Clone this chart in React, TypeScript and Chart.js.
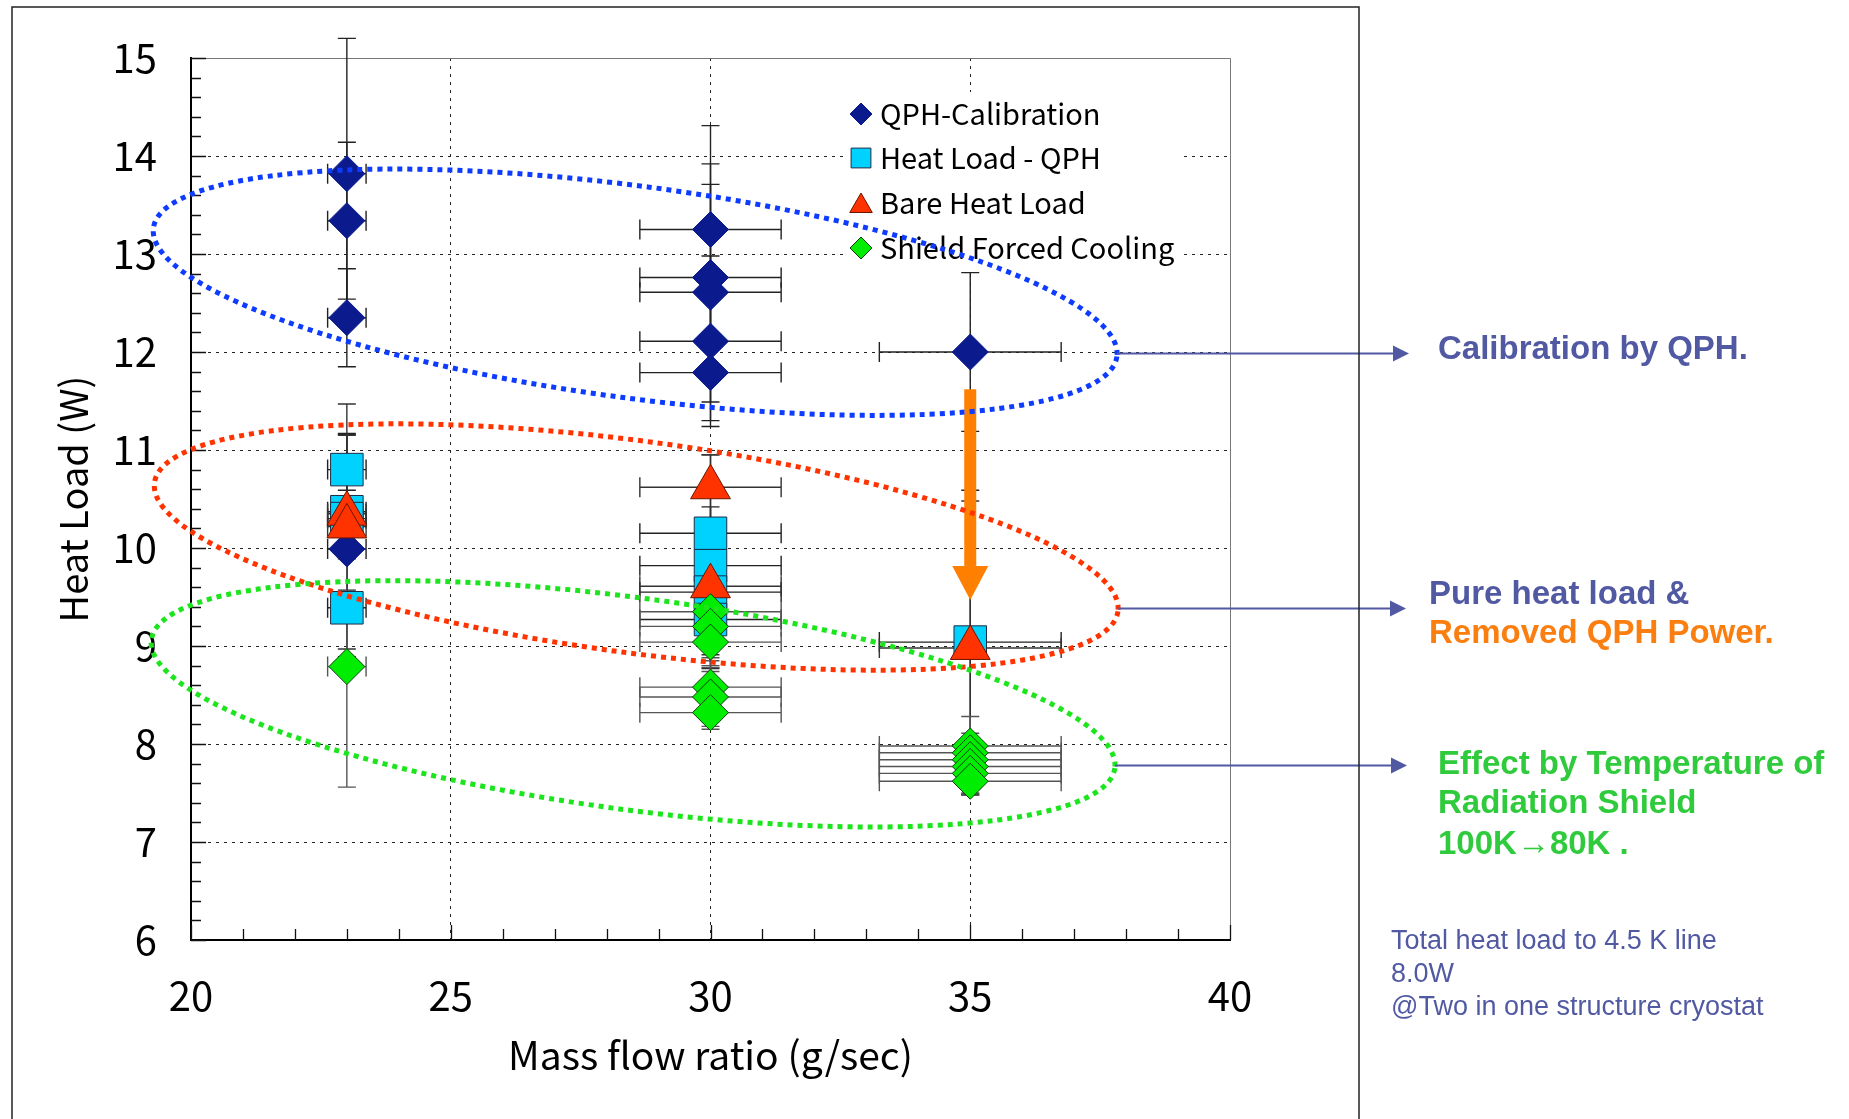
import React, { useEffect, useRef } from 'react';
import { Chart, registerables } from 'chart.js';

Chart.register(...registerables);

const W = 1849;
const H = 1119;

// ---------- data ----------
const xTicks = { min: 20, max: 40, step: 5 };
const yTicks = { min: 6, max: 15, step: 1 };

const qphX = [23, 23, 23, 23, 30, 30, 30, 30, 30, 35];
const qphY = [13.82, 13.34, 12.35, 9.99, 13.25, 12.76, 12.61, 12.11, 11.79, 12.0];
const qphXErr = [0.37, 0.37, 0.37, 0.37, 1.36, 1.36, 1.36, 1.36, 1.36, 1.75];
const qphYErr = [1.38, 0.8, 0.5, 0.6, 1.06, 0.95, 1.31, 0.87, 0.3, 0.81];

const hlX = [23, 23, 23, 23, 30, 30, 30, 30, 35];
const hlY = [10.8, 10.37, 10.3, 9.39, 10.15, 9.82, 9.55, 9.27, 9.04];
const hlXErr = [0.37, 0.37, 0.37, 0.37, 1.36, 1.36, 1.36, 1.36, 1.75];
const hlYErr = [0.36, 0.8, 0.22, 0.5, 0.8, 0.6, 0.4, 0.5, 1.55];

const bareX = [23, 23, 30, 30, 35];
const bareY = [10.35, 10.22, 10.62, 9.61, 8.98];
const bareXErr = [0.37, 0.37, 1.36, 1.36, 1.75];
const bareYErr = [0.8, 1.25, 0.33, 0.7, 1.5];

const sfcX = [23, 30, 30, 30, 30, 30, 30, 35, 35, 35, 35, 35, 35];
const sfcY = [8.79, 9.35, 9.2, 9.04, 8.58, 8.48, 8.32, 7.98, 7.91, 7.84, 7.77, 7.7, 7.62];
const sfcXErr = [0.37, 1.36, 1.36, 1.36, 1.36, 1.36, 1.36, 1.75, 1.75, 1.75, 1.75, 1.75, 1.75];
const sfcYErr = [1.23, 0.5, 0.4, 0.3, 0.3, 0.3, 0.17, 0.3, 0.2, 0.2, 0.2, 0.2, 0.14];

const seriesLabels = ['QPH-Calibration', 'Heat Load - QPH', 'Bare Heat Load', 'Shield Forced Cooling'];

// highlighted groups (ellipses), centre in data units
const groupCenterX = [28.55, 28.57, 28.51];
const groupCenterY = [12.61, 10.01, 8.41];

// removed QPH power arrow (data units)
const removedArrowX = 35;
const removedArrowFrom = 11.62;
const removedArrowTo = 9.47;

const noteLines = [
  'Calibration by QPH.',
  'Pure heat load &',
  'Removed QPH Power.',
  'Effect by Temperature of',
  'Radiation Shield',
  '100K\u219280K .',
];
const footLines = ['Total heat load to 4.5 K line', '8.0W', '@Two in one structure cryostat'];

// ---------- styles / layout ----------
const JP = '"Noto Sans CJK JP", "Noto Sans", sans-serif';
const AR = '"Liberation Sans", Arial, sans-serif';
const SLATE = '#5159a3';
const ORANGE = '#fb7f10';
const GREEN_TXT = '#2fcb3c';
const ellipseColors = ['#0d3bff', '#ff3300', '#1de51d'];
const ellipseA = 486;
const ellipseB = 106;
const ellipseRot = (7.6 * Math.PI) / 180;
const noteColors = [SLATE, SLATE, ORANGE, GREEN_TXT, GREEN_TXT, GREEN_TXT];
const noteX = [1438, 1429, 1429, 1438, 1438, 1438];
const noteY = [350, 595, 634, 765, 804, 845];
const footX = 1391;
const footY = [942, 975, 1008];
const arrowTipX = [1409, 1406, 1407];
const AREA = { left: 191, right: 1230, top: 53, bottom: 940 };

const markerStyles = [
  { style: 'rectRot', r: 18, bg: '#0b1a8c', border: '#0b1a8c', leg: 11 },
  { style: 'rect', r: 23, bg: '#00d2ff', border: '#1d2b45', leg: 14 },
  { style: 'triangle', r: 23, bg: '#ff3300', border: '#6a1500', leg: 13 },
  { style: 'rectRot', r: 18, bg: '#00ec00', border: '#0b3b0b', leg: 11 },
];
const errColors = ['#222', '#222', '#333', '#555'];

function drawMarker(ctx: CanvasRenderingContext2D, style: string, x: number, y: number, r: number, bg: string, border: string) {
  ctx.beginPath();
  if (style === 'rectRot') {
    ctx.moveTo(x, y - r);
    ctx.lineTo(x + r, y);
    ctx.lineTo(x, y + r);
    ctx.lineTo(x - r, y);
  } else if (style === 'rect') {
    const s = r * Math.SQRT1_2;
    ctx.rect(x - s, y - s, 2 * s, 2 * s);
  } else {
    ctx.moveTo(x, y - r);
    ctx.lineTo(x + 0.866 * r, y + 0.5 * r);
    ctx.lineTo(x - 0.866 * r, y + 0.5 * r);
  }
  ctx.closePath();
  ctx.fillStyle = bg;
  ctx.fill();
  ctx.lineWidth = 1;
  ctx.strokeStyle = border;
  ctx.stroke();
}

const overlay = {
  id: 'overlay',
  beforeDatasetsDraw(chart: any) {
    const ctx: CanvasRenderingContext2D = chart.ctx;
    const xs = chart.scales.x;
    const ys = chart.scales.y;
    const ca = chart.chartArea;
    ctx.save();
    // top / right frame of plot
    ctx.strokeStyle = '#777';
    ctx.lineWidth = 1;
    ctx.beginPath();
    ctx.moveTo(ca.left, ca.top + 0.5);
    ctx.lineTo(ca.right + 0.5, ca.top + 0.5);
    ctx.lineTo(ca.right + 0.5, ca.bottom);
    ctx.stroke();
    // inward ticks
    ctx.strokeStyle = '#111';
    ctx.lineWidth = 1.3;
    ctx.beginPath();
    for (let k = 0; k <= (yTicks.max - yTicks.min) * 5; k++) {
      const v = yTicks.min + k * 0.2;
      const major = k % 5 === 0;
      const py = Math.round(ys.getPixelForValue(v)) + 0.5;
      ctx.moveTo(ca.left, py);
      ctx.lineTo(ca.left + (major ? 15 : 10), py);
    }
    for (let v = xTicks.min; v <= xTicks.max; v++) {
      const major = v % 5 === 0;
      const px = Math.round(xs.getPixelForValue(v)) + 0.5;
      ctx.moveTo(px, ca.bottom);
      ctx.lineTo(px, ca.bottom - (major ? 15 : 11));
    }
    ctx.stroke();

    // legend (white box)
    const lx = 843, ly = 92, lw = 337, lh = 180;
    ctx.fillStyle = '#fff';
    ctx.fillRect(lx, ly, lw, lh);
    const rowY = [114, 158, 203, 248];
    chart.data.datasets.forEach((ds: any, i: number) => {
      const m = markerStyles[i];
      drawMarker(ctx, m.style, 861, rowY[i] + (m.style === 'triangle' ? 3 : 0), m.leg, m.bg, m.border);
      ctx.fillStyle = '#000';
      ctx.font = `29px ${JP}`;
      ctx.textBaseline = 'middle';
      ctx.textAlign = 'left';
      ctx.fillText(ds.label, 880, rowY[i]);
    });

    // error bars
    chart.data.datasets.forEach((ds: any, i: number) => {
      ctx.strokeStyle = errColors[i];
      ctx.lineWidth = 1.4;
      ds.data.forEach((p: any, j: number) => {
        const px = xs.getPixelForValue(p.x);
        const py = ys.getPixelForValue(p.y);
        const x1 = xs.getPixelForValue(p.x - ds.errX[j]);
        const x2 = xs.getPixelForValue(p.x + ds.errX[j]);
        const y1 = ys.getPixelForValue(p.y + ds.errY[j]);
        const y2 = ys.getPixelForValue(p.y - ds.errY[j]);
        ctx.beginPath();
        ctx.moveTo(x1, py); ctx.lineTo(x2, py);
        ctx.moveTo(x1, py - 10); ctx.lineTo(x1, py + 10);
        ctx.moveTo(x2, py - 10); ctx.lineTo(x2, py + 10);
        ctx.moveTo(px, y1); ctx.lineTo(px, y2);
        ctx.moveTo(px - 9, y1); ctx.lineTo(px + 9, y1);
        ctx.moveTo(px - 9, y2); ctx.lineTo(px + 9, y2);
        ctx.stroke();
      });
    });
    ctx.restore();
  },
  afterDatasetsDraw(chart: any) {
    const ctx: CanvasRenderingContext2D = chart.ctx;
    const xs = chart.scales.x;
    const ys = chart.scales.y;
    ctx.save();
    // orange arrow
    const ax = xs.getPixelForValue(removedArrowX);
    const ay1 = ys.getPixelForValue(removedArrowFrom);
    const ay2 = ys.getPixelForValue(removedArrowTo);
    ctx.fillStyle = '#ff8000';
    ctx.fillRect(ax - 6, ay1, 12, ay2 - 34 - ay1);
    ctx.beginPath();
    ctx.moveTo(ax - 18, ay2 - 34);
    ctx.lineTo(ax + 18, ay2 - 34);
    ctx.lineTo(ax, ay2);
    ctx.closePath();
    ctx.fill();

    // ellipses + connectors
    groupCenterX.forEach((gx, i) => {
      const cx = xs.getPixelForValue(gx);
      const cy = ys.getPixelForValue(groupCenterY[i]);
      ctx.save();
      ctx.strokeStyle = ellipseColors[i];
      ctx.lineWidth = 5;
      ctx.setLineDash([5, 5]);
      ctx.beginPath();
      ctx.ellipse(cx, cy, ellipseA, ellipseB, ellipseRot, 0, Math.PI * 2);
      ctx.stroke();
      ctx.restore();
      const c = Math.cos(ellipseRot), s = Math.sin(ellipseRot);
      const xm = Math.sqrt(ellipseA * ellipseA * c * c + ellipseB * ellipseB * s * s);
      const ym = ((ellipseA * ellipseA - ellipseB * ellipseB) * s * c) / xm;
      const sx = cx + xm, sy = Math.round(cy + ym) + 0.5;
      const tip = arrowTipX[i];
      ctx.strokeStyle = SLATE;
      ctx.fillStyle = SLATE;
      ctx.lineWidth = 2;
      ctx.beginPath();
      ctx.moveTo(sx, sy);
      ctx.lineTo(tip - 15, sy);
      ctx.stroke();
      ctx.beginPath();
      ctx.moveTo(tip - 16, sy - 8);
      ctx.lineTo(tip, sy);
      ctx.lineTo(tip - 16, sy + 8);
      ctx.closePath();
      ctx.fill();
    });

    // notes
    ctx.textBaseline = 'middle';
    ctx.textAlign = 'left';
    noteLines.forEach((t, i) => {
      ctx.font = `bold 33px ${AR}`;
      ctx.fillStyle = noteColors[i];
      ctx.fillText(t, noteX[i], noteY[i]);
    });
    footLines.forEach((t, i) => {
      ctx.font = `27px ${AR}`;
      ctx.fillStyle = SLATE;
      ctx.fillText(t, footX, footY[i]);
    });

    // outer frame
    ctx.strokeStyle = '#222';
    ctx.lineWidth = 1.5;
    ctx.beginPath();
    ctx.moveTo(12, H + 2);
    ctx.lineTo(12, 7);
    ctx.lineTo(1359, 7);
    ctx.lineTo(1359, H + 2);
    ctx.stroke();
    ctx.restore();
  },
};

function mk(xv: number[], yv: number[], ex: number[], ey: number[], i: number) {
  const m = markerStyles[i];
  return {
    label: seriesLabels[i],
    data: xv.map((x, k) => ({ x, y: yv[k] })),
    errX: ex,
    errY: ey,
    pointStyle: m.style,
    pointRadius: m.r,
    pointBackgroundColor: m.bg,
    pointBorderColor: m.border,
    pointBorderWidth: 1,
    showLine: false,
    order: 4 - i,
  };
}

export default function App() {
  const ref = useRef<HTMLCanvasElement | null>(null);
  useEffect(() => {
    if (!ref.current) return;
    const edge = (v: number, a: number, b: number) => Math.abs(v - a) < 1e-6 || Math.abs(v - b) < 1e-6;
    const chart = new Chart(ref.current, {
      type: 'scatter',
      data: {
        datasets: [
          mk(qphX, qphY, qphXErr, qphYErr, 0),
          mk(hlX, hlY, hlXErr, hlYErr, 1),
          mk(bareX, bareY, bareXErr, bareYErr, 2),
          mk(sfcX, sfcY, sfcXErr, sfcYErr, 3),
        ] as any,
      },
      options: {
        responsive: false,
        animation: false,
        devicePixelRatio: 1,
        events: [],
        layout: { padding: { left: 0, top: AREA.top, right: W - AREA.right, bottom: 0 } },
        plugins: { legend: { display: false }, tooltip: { enabled: false } },
        scales: {
          x: {
            type: 'linear',
            min: xTicks.min,
            max: xTicks.max,
            afterFit: (s: any) => { s.height = H - AREA.bottom; },
            ticks: { stepSize: xTicks.step, padding: 32, color: '#000', font: { family: JP, size: 40 }, maxRotation: 0 },
            grid: {
              drawTicks: false,
              lineWidth: 1,
              color: (c: any) => (edge(c.tick?.value, xTicks.min, xTicks.max) ? 'rgba(0,0,0,0)' : '#222'),
            },
            border: { display: true, color: '#000', width: 2, dash: [3, 5] },
            title: { display: true, text: 'Mass flow ratio (g/sec)', color: '#000', font: { family: JP, size: 39 }, padding: { top: 0, bottom: 40 } },
          },
          y: {
            type: 'linear',
            min: yTicks.min,
            max: yTicks.max,
            afterFit: (s: any) => { s.width = AREA.left; },
            ticks: { stepSize: yTicks.step, padding: 34, color: '#000', font: { family: JP, size: 40 } },
            grid: {
              drawTicks: false,
              lineWidth: 1,
              color: (c: any) => (edge(c.tick?.value, yTicks.min, yTicks.max) ? 'rgba(0,0,0,0)' : '#222'),
            },
            border: { display: true, color: '#000', width: 2, dash: [3, 5] },
            title: { display: true, text: 'Heat Load (W)', color: '#000', font: { family: JP, size: 38 }, padding: { top: 51, bottom: 0 } },
          },
        },
      } as any,
      plugins: [overlay],
    });
    return () => chart.destroy();
  }, []);
  return (
    <div style={{ position: 'fixed', left: 0, top: 0, width: W, height: H, background: '#fff' }}>
      <canvas ref={ref} width={W} height={H} style={{ display: 'block' }} />
    </div>
  );
}
